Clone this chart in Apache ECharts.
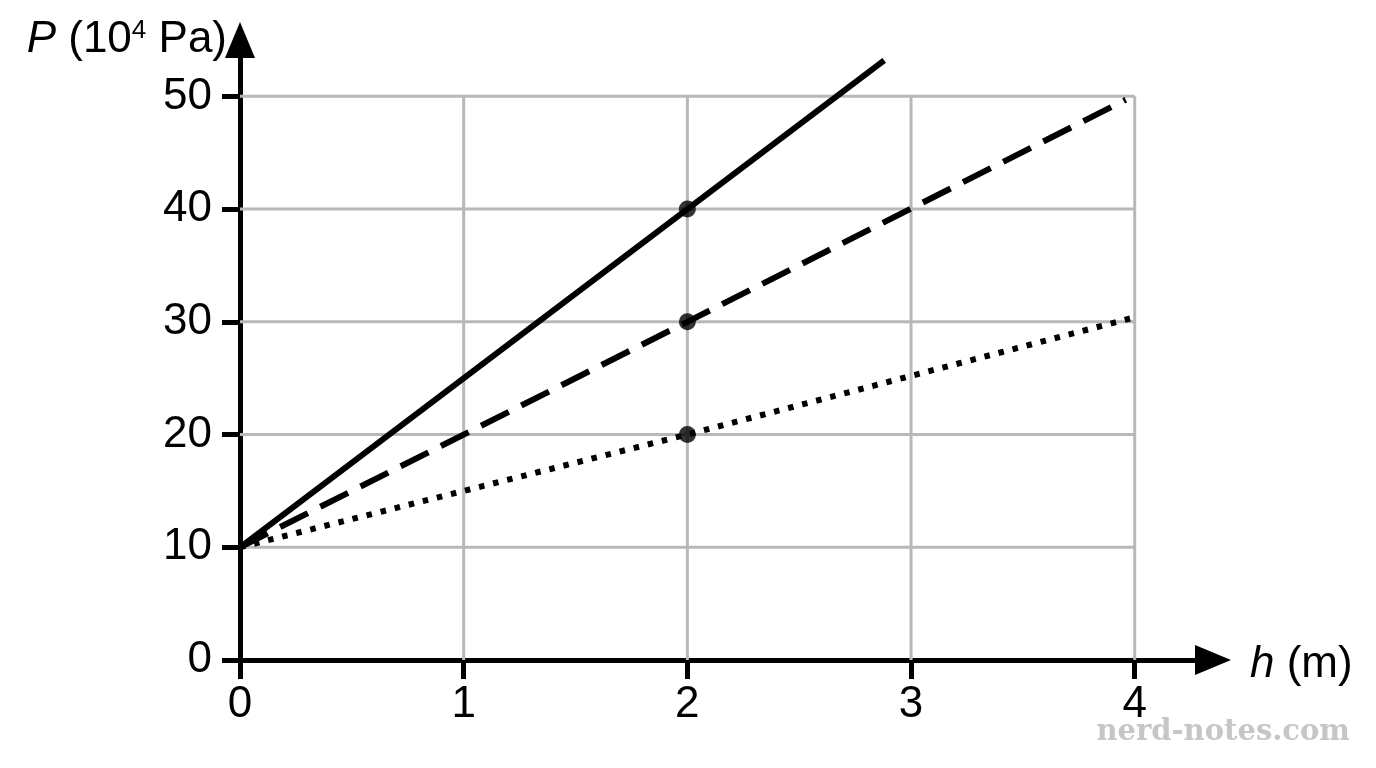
<!DOCTYPE html>
<html><head><meta charset="utf-8">
<script src="https://cdn.jsdelivr.net/npm/echarts@6/dist/echarts.min.js"></script>
<style>html,body{margin:0;padding:0;background:#fff}#c{width:1376px;height:768px}</style>
</head><body><div id="c"></div>
<script>
// Tick values
const xTicks = [0, 1, 2, 3, 4];
const yTicks = [0, 10, 20, 30, 40, 50];
// Grid lines
const gridX = [1, 2, 3, 4];
const gridY = [10, 20, 30, 40, 50];
// Solid line
const solidH = [0, 2, 2.88];
const solidP = [10, 40, 53.2];
// Dashed line
const dashedH = [0, 2, 3.96];
const dashedP = [10, 30, 49.7];
// Dotted line
const dottedH = [0, 2, 3.98];
const dottedP = [10, 20, 30.3];
// Marked points
const pointH = [2, 2, 2];
const pointP = [40, 30, 20];

const zip = (a, b) => a.map((v, i) => [v, b[i]]);
const xEnd = xTicks[xTicks.length - 1];
const yEnd = yTicks[yTicks.length - 1];
const FONT = 'Liberation Sans, Arial, Helvetica, sans-serif';
const GRID_COLOR = '#b8b8b8';

const series = [];
gridX.forEach(x => series.push({
  type: 'line', data: [[x, 0], [x, yEnd]], symbol: 'none', silent: true, z: 1,
  lineStyle: { color: GRID_COLOR, width: 3 }
}));
gridY.forEach(y => series.push({
  type: 'line', data: [[0, y], [xEnd, y]], symbol: 'none', silent: true, z: 1,
  lineStyle: { color: GRID_COLOR, width: 3 }
}));
series.push({
  type: 'line', data: zip(solidH, solidP), symbol: 'none', z: 3,
  lineStyle: { color: '#000', width: 6, cap: 'butt' }
});
series.push({
  type: 'line', data: zip(dashedH, dashedP), symbol: 'none', z: 3,
  lineStyle: { color: '#000', width: 6, type: [31, 14], cap: 'butt' }
});
series.push({
  type: 'line', data: zip(dottedH, dottedP), symbol: 'none', z: 3,
  lineStyle: { color: '#000', width: 6, type: [5.5, 9], cap: 'butt' }
});
series.push({
  type: 'scatter', data: zip(pointH, pointP), symbol: 'circle', symbolSize: 17, z: 4,
  itemStyle: { color: '#000' }
});

const chart = echarts.init(document.getElementById('c'), null, { renderer: 'canvas' });
chart.setOption({
  animation: false,
  backgroundColor: '#fff',
  title: {
    text: 'nerd-notes.com', right: 21, bottom: 16,
    textStyle: { fontFamily: 'DejaVu Serif, serif', fontSize: 29, fontWeight: 'bold', color: '#c6c6c6' }
  },
  grid: { left: 240, right: 163, top: 40, bottom: 108, containLabel: false, outerBoundsMode: 'none' },
  xAxis: {
    type: 'value', min: 0, max: 4.35,
    name: '{i|h} (m)', nameLocation: 'end', nameGap: 37,
    nameTextStyle: {
      fontFamily: FONT, fontSize: 44, color: '#000', padding: [10, 0, 0, 0],
      rich: { i: { fontFamily: FONT, fontSize: 44, fontStyle: 'italic', color: '#000' } }
    },
    axisLine: { show: true, symbol: ['none', 'triangle'], symbolSize: [30, 36], lineStyle: { color: '#000', width: 5 } },
    axisTick: { show: true, length: 19, customValues: xTicks, lineStyle: { color: '#000', width: 5 } },
    axisLabel: { customValues: xTicks, margin: 23, fontFamily: FONT, fontSize: 44, color: '#000' },
    splitLine: { show: false }
  },
  yAxis: {
    type: 'value', min: 0, max: 55,
    name: '{i|P} (10{s|4} Pa)', nameLocation: 'end', nameGap: 0,
    nameTextStyle: {
      fontFamily: FONT, fontSize: 44, color: '#000', align: 'right', verticalAlign: 'middle',
      padding: [0, 13, 0, 0],
      rich: {
        i: { fontFamily: FONT, fontSize: 44, fontStyle: 'italic', color: '#000' },
        s: { fontFamily: FONT, fontSize: 26, color: '#000', verticalAlign: 'top', lineHeight: 24 }
      }
    },
    axisLine: { show: true, symbol: ['none', 'triangle'], symbolSize: [30, 36], lineStyle: { color: '#000', width: 5 } },
    axisTick: { show: true, length: 18, customValues: yTicks, lineStyle: { color: '#000', width: 5 } },
    axisLabel: { customValues: yTicks, margin: 28, fontFamily: FONT, fontSize: 44, color: '#000' },
    splitLine: { show: false }
  },
  series: series
});
</script>
</body></html>
